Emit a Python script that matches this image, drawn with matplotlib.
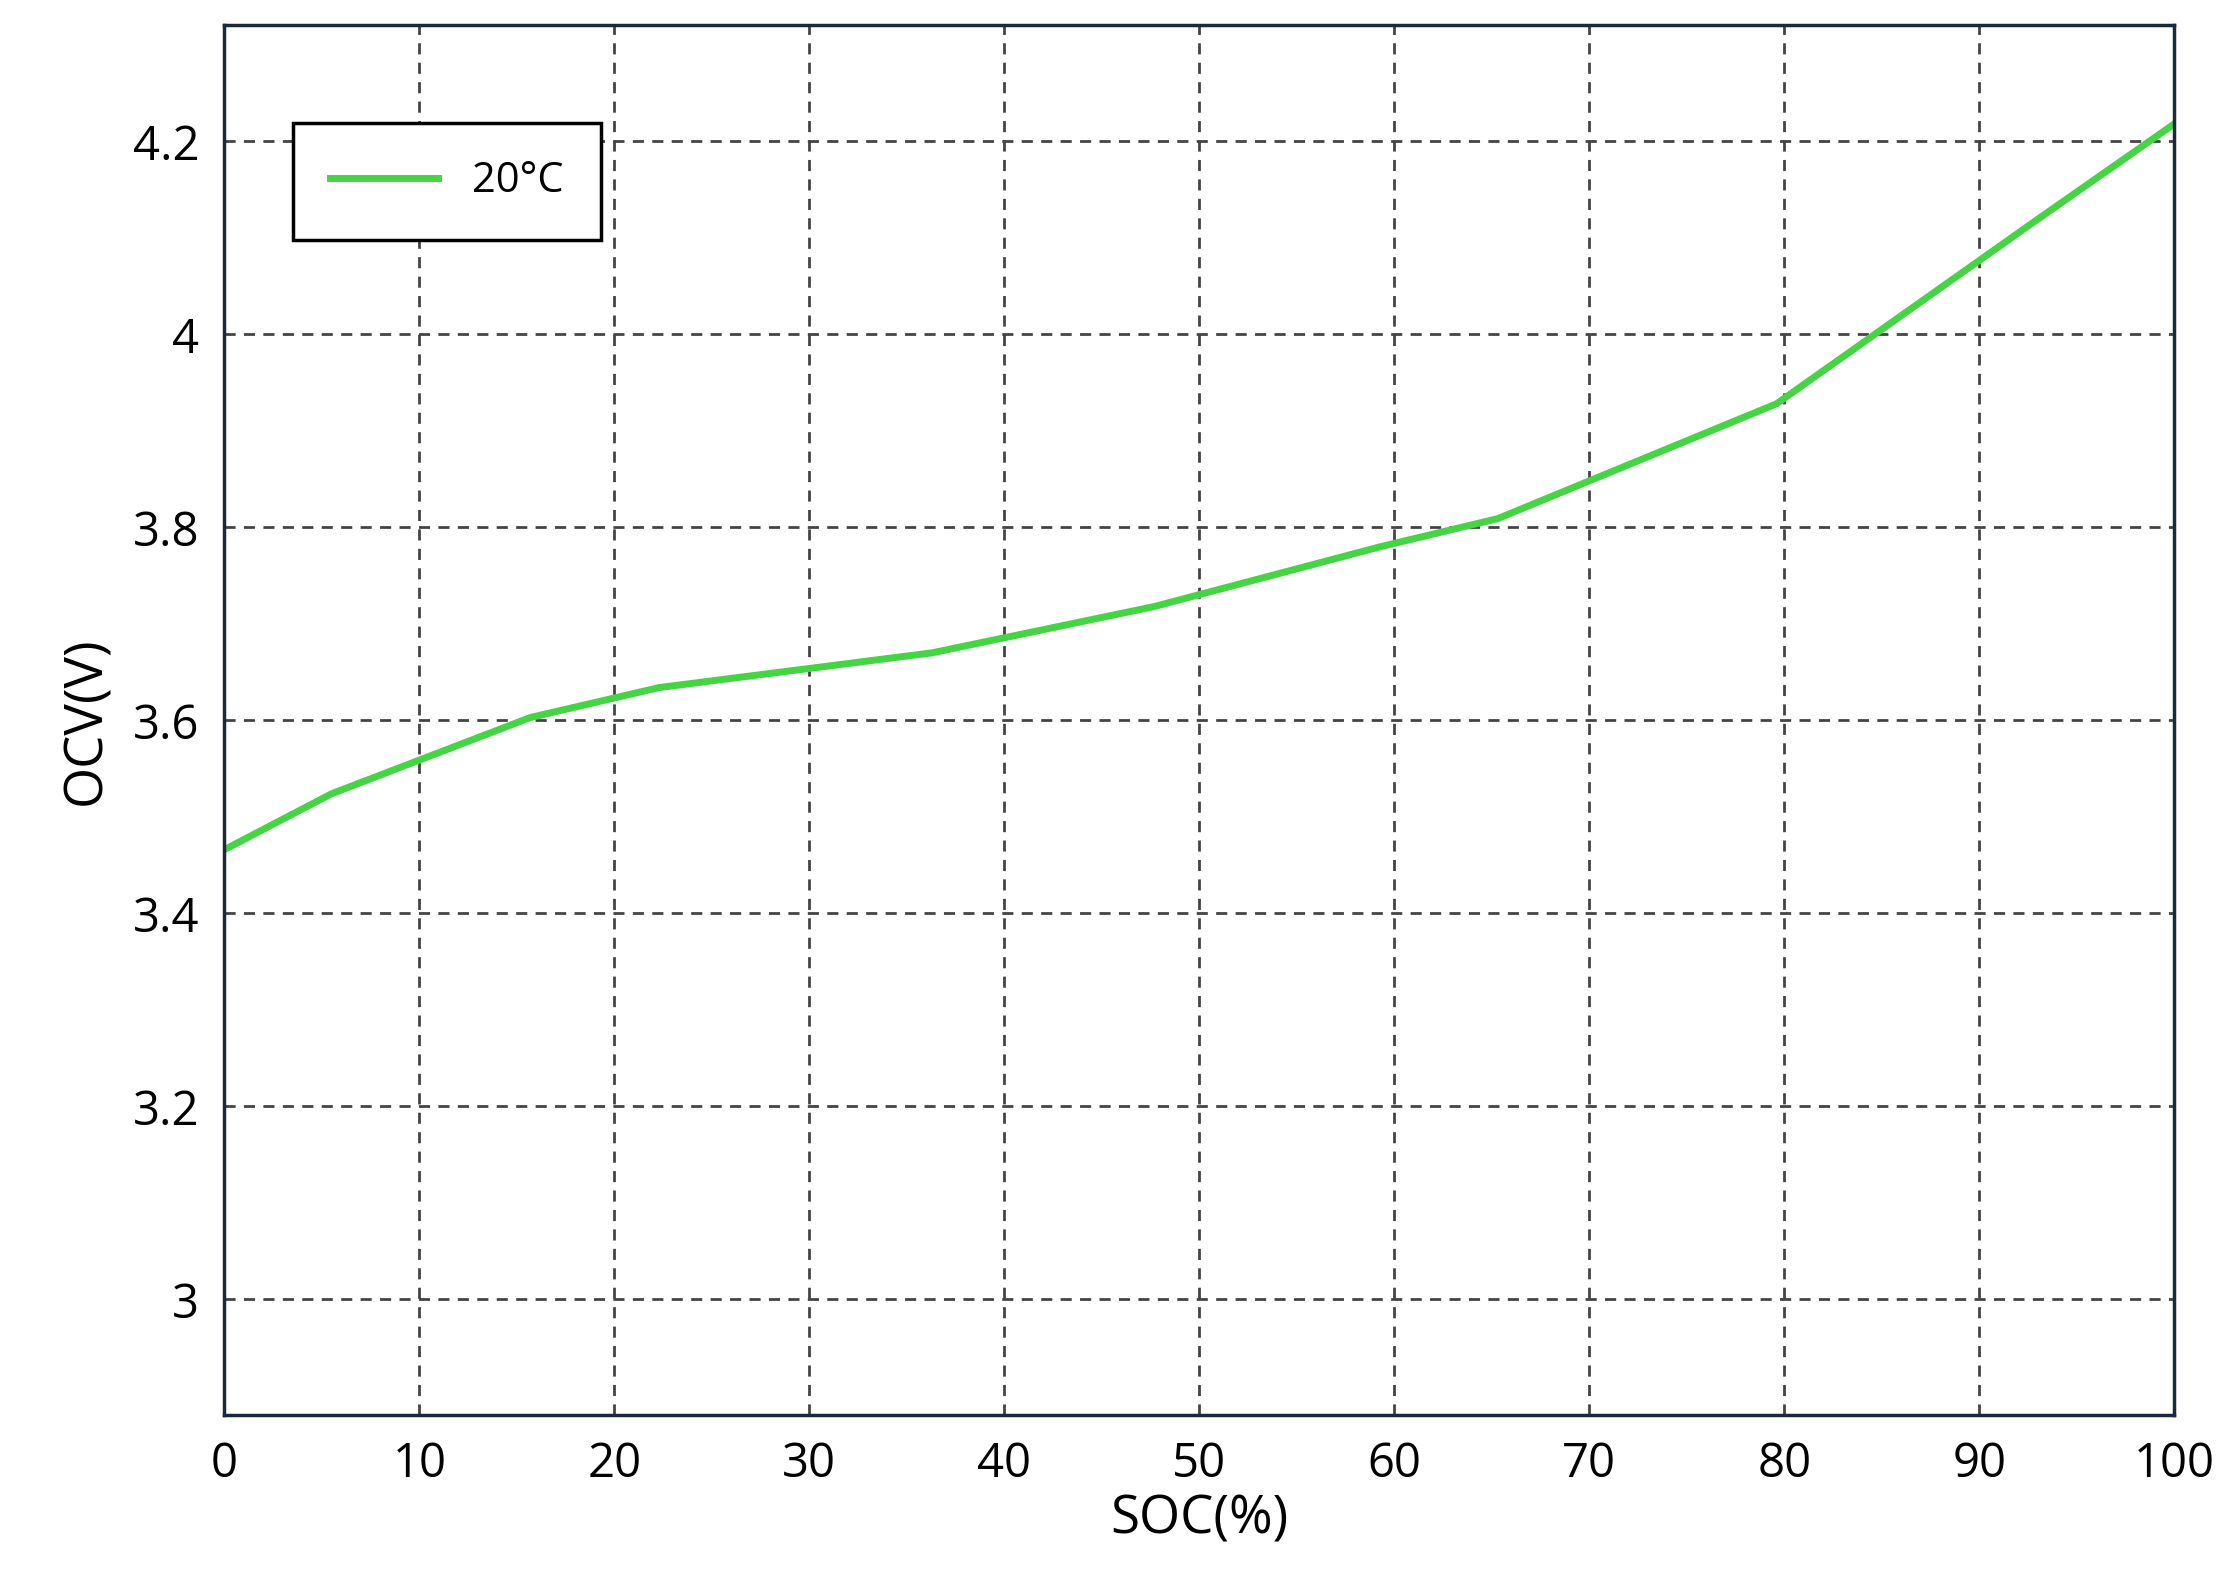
import matplotlib
matplotlib.use("Agg")
import matplotlib.pyplot as plt

soc = [0, 5.5, 15.7, 22.3, 36.3, 47.7, 59.3, 65.3, 79.6, 92.7, 100]
ocv = [3.466, 3.524, 3.603, 3.634, 3.670, 3.718, 3.780, 3.809, 3.928, 4.115, 4.218]
xticks = [0, 10, 20, 30, 40, 50, 60, 70, 80, 90, 100]
yticks = [3.0, 3.2, 3.4, 3.6, 3.8, 4.0, 4.2]
ylabels = ["3", "3.2", "3.4", "3.6", "3.8", "4", "4.2"]

plt.rcParams['font.family'] = ['Open Sans', 'DejaVu Sans']
fig = plt.figure(figsize=(22.3, 15.92), dpi=100)
ax = fig.add_axes([0.1006, 0.111, 0.8744, 0.873])
ax.plot(soc, ocv, color='#44d444', lw=5, label='20°C')
ax.set_xlim(0, 100)
ax.set_ylim(2.88, 4.32)
ax.set_xticks(xticks)
ax.set_yticks(yticks)
ax.set_yticklabels(ylabels)
ax.tick_params(labelsize=34, length=0, pad=18)
ax.grid(True, ls=(0, (4, 3)), color='#444444', lw=2)
for s in ax.spines.values():
    s.set_linewidth(2.5)
    s.set_color('#1a2a3a')
ax.set_xlabel('SOC(%)', fontsize=38, labelpad=4)
ax.set_ylabel('OCV(V)', fontsize=38, labelpad=14)
leg = ax.legend(loc='upper left', bbox_to_anchor=(0.035, 0.93), fontsize=30,
                fancybox=False, edgecolor='black', framealpha=1,
                handlelength=2.6, borderpad=0.9, borderaxespad=0)
leg.get_frame().set_linewidth(2.5)
fig.savefig('out.png', dpi=100)
